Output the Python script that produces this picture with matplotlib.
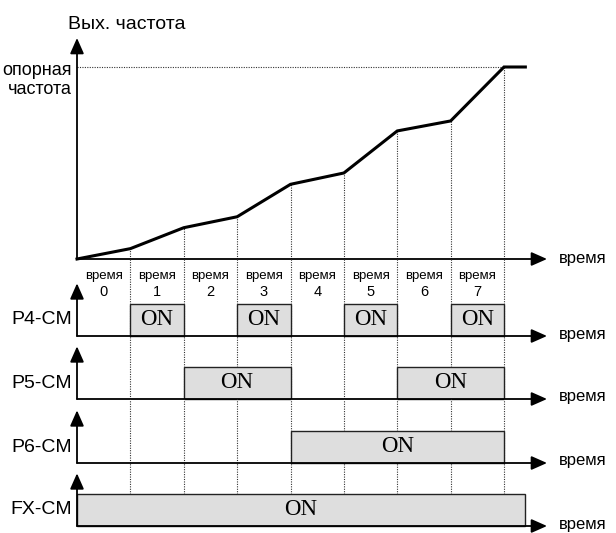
import matplotlib
matplotlib.use("Agg")
import matplotlib.pyplot as plt

# ---------------- data ----------------
times = [0, 1, 2, 3, 4, 5, 6, 7, 8, 8.4]
freq = [0, 5.4, 16.3, 22.0, 38.9, 44.8, 66.7, 71.9, 100, 100]
step_labels = ["0", "1", "2", "3", "4", "5", "6", "7"]
signals = ["P4-CM", "P5-CM", "P6-CM", "FX-CM"]
p4_on = [(1, 2), (3, 4), (5, 6), (7, 8)]
p5_on = [(2, 4), (6, 8)]
p6_on = [(4, 8)]
fx_on = [(0, 8.4)]
on_spans = [p4_on, p5_on, p6_on, fx_on]

# ---------------- layout (pixels) ----------------
W, H = 616, 533
X0, X8, XEND = 77, 504, 547
unit = (X8 - X0) / 8.0
XMAX = (XEND - X0) / unit
BOX = 32.5

SANS = ["Liberation Sans Narrow", "Liberation Sans", "DejaVu Sans"]
SERIF = ["Liberation Serif", "DejaVu Serif"]

fig = plt.figure(figsize=(W / 100, H / 100), dpi=100)


def add_axes_px(top, bottom):
    ax = fig.add_axes([X0 / W, 1 - bottom / H, (XEND - X0) / W, (bottom - top) / H])
    ax.set_xlim(0, XMAX)
    ax.axis("off")
    return ax


def arrow(ax, start, end):
    ax.annotate("", xy=end, xytext=start, xycoords="data",
                arrowprops=dict(arrowstyle="-|>,head_length=0.95,head_width=0.42",
                                mutation_scale=10, lw=1.3, color="black",
                                shrinkA=0, shrinkB=0), annotation_clip=False)


dot_kw = dict(color="#333333", lw=0.8, linestyle=(0, (1, 1.2)))

# ---------------- frequency panel ----------------
axf = add_axes_px(38, 259)
ymax = 100 * (259 - 38) / (259 - 67)
axf.set_ylim(0, ymax)
axf.plot(times, freq, color="black", lw=2.2, solid_joinstyle="miter", clip_on=False, zorder=3)
axf.vlines(times[1:9], 0, freq[1:9], **dot_kw)
axf.hlines(100, 0, times[8], **dot_kw)
arrow(axf, (0, 0), (0, ymax))
arrow(axf, (0, 0), (XMAX, 0))
fig.text(68 / W, 1 - 29 / H, "Вых. частота", family=SANS, fontsize=14,
         ha="left", va="baseline")
fig.text(72 / W, 1 - 80 / H, "опорная\nчастота", family=SANS, fontsize=13,
         ha="right", va="center", multialignment="right", linespacing=1.15)
fig.text(559 / W, 1 - 258 / H, "время", family=SANS, fontsize=12, ha="left", va="center")

# ---------------- signal rows ----------------
rows_px = [(259, 336), (336, 399), (399, 463), (463, 526)]
for i, (name, spans, (top, bot)) in enumerate(zip(signals, on_spans, rows_px)):
    ax = add_axes_px(top, bot)
    ax.set_ylim(0, (bot - top) / BOX)
    ax.vlines(times[1:9], 0, (bot - top) / BOX, **dot_kw)
    for (a, b) in spans:
        ax.bar(a, 1, width=b - a, bottom=0, align="edge", color="#dedede",
               edgecolor="#222222", lw=1.0, zorder=3, clip_on=False)
        ax.text((a + b) / 2, 0.5, "ON", family=SERIF, fontsize=16.5,
                ha="center", va="center", zorder=4)
    arrow(ax, (0, 0), (0, 1.62))
    arrow(ax, (0, 0), (XMAX, 0))
    ax.plot([0, 0], [0, 0], color="black")
    fig.text(72 / W, 1 - (bot - 16) / H, name, family=SANS, fontsize=14,
             ha="right", va="center")
    fig.text(559 / W, 1 - (bot - 2) / H, "время", family=SANS, fontsize=12,
             ha="left", va="center")
    if i == 0:
        for k, lab in enumerate(step_labels):
            ax.text(k + 0.5, (bot - 276) / BOX, "время", family=SANS, fontsize=9.5,
                    ha="center", va="center")
            ax.text(k + 0.5, (bot - 292) / BOX, lab, family=SANS, fontsize=10.5,
                    ha="center", va="center")

fig.savefig("out.png", dpi=100)
